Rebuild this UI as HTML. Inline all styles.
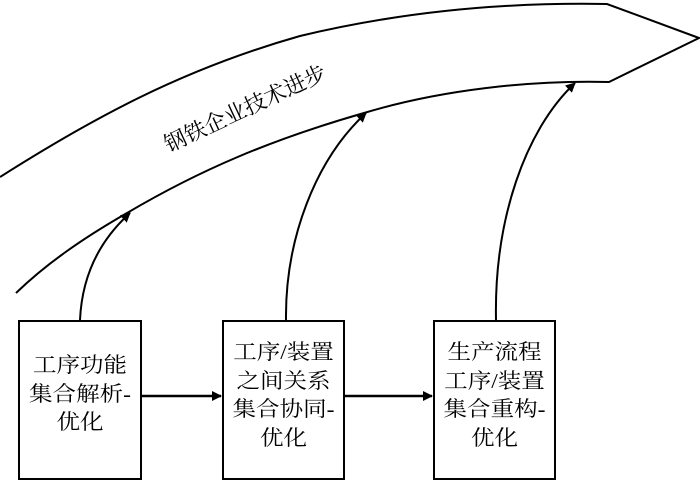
<!DOCTYPE html>
<html><head><meta charset="utf-8"><style>
body{margin:0;width:700px;height:468px;background:#fff;overflow:hidden;position:relative;font-family:"Liberation Serif","Noto Serif CJK SC",serif;}
.box{position:absolute;top:320px;height:160px;border:2.5px solid #000;box-sizing:border-box;color:#000;background:#fff;}
.t{position:absolute;left:0;right:0;text-align:center;font-size:21px;line-height:28.5px;transform:scaleX(1.12);}
</style></head><body>
<svg width="700" height="468" style="position:absolute;left:0;top:0">
<defs><marker id="a" markerWidth="10" markerHeight="10" refX="9" refY="5" orient="auto" markerUnits="userSpaceOnUse"><path d="M0,0 L10,5 L0,10 z" fill="#000"/></marker></defs>
<path d="M0,177 C90,120 180,70 300,36 C400,12 500,2 607,4 L699,38 L609,82 C530,80 440,90 364,113 C270,140 200,170 127,213 C80,240 45,265 16,293" fill="none" stroke="#000" stroke-width="2"/>
<path d="M80,320 C82,275 100,240 130,213" fill="none" stroke="#000" stroke-width="2" marker-end="url(#a)"/>
<path d="M286,320 C285,240 315,160 366,113" fill="none" stroke="#000" stroke-width="2" marker-end="url(#a)"/>
<path d="M496,320 C494,220 525,130 575,83" fill="none" stroke="#000" stroke-width="2" marker-end="url(#a)"/>
<path d="M141,396 L221,396" stroke="#000" stroke-width="2.5" marker-end="url(#a)"/>
<path d="M344,396 L432,396" stroke="#000" stroke-width="2.5" marker-end="url(#a)"/>
<text x="245" y="116" font-size="22" text-anchor="middle" transform="rotate(-25 245 108)" font-family="Liberation Serif,Noto Serif CJK SC,serif">钢铁企业技术进步</text>
</svg>
<div class="box" style="left:18px;width:124px"><div class="t" style="top:29px">工序功能<br>集合解析-<br>优化</div></div>
<div class="box" style="left:222px;width:123px"><div class="t" style="top:16px">工序/装置<br>之间关系<br>集合协同-<br>优化</div></div>
<div class="box" style="left:433px;width:123px"><div class="t" style="top:16px">生产流程<br>工序/装置<br>集合重构-<br>优化</div></div>
</body></html>
